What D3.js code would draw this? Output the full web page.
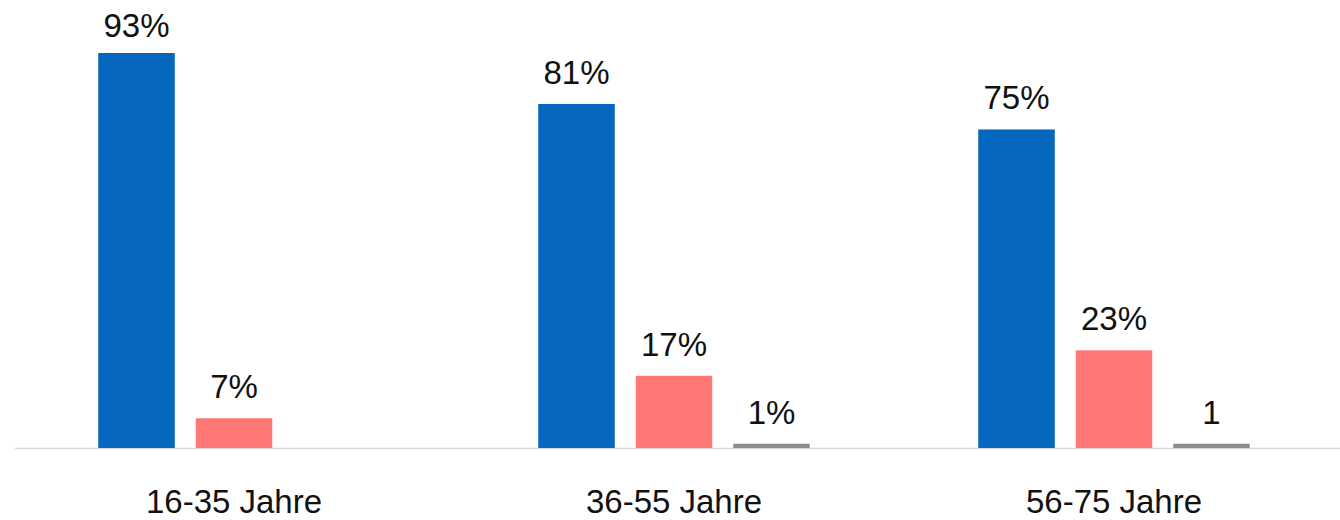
<!DOCTYPE html>
<html>
<head>
<meta charset="utf-8">
<script src="https://cdn.jsdelivr.net/npm/d3@7"></script>
<style>
  body { margin: 0; background: #fff; }
  text { font-family: "Liberation Sans", Arial, sans-serif; fill: #111; }
</style>
</head>
<body>
<svg id="chart" width="1340" height="520"></svg>
<script>
const categories = ["16-35 Jahre", "36-55 Jahre", "56-75 Jahre"];
const series = ["s1", "s2", "s3"];
const colors = ["#0567bd", "#ff7875", "#8c8c8c"];
const values = [
  [93, 7, 0],
  [81, 17, 1],
  [75, 23, 1]
];
const labels = [
  ["93%", "7%", ""],
  ["81%", "17%", "1%"],
  ["75%", "23%", "1"]
];

const svg = d3.select("#chart");
const baseY = 448;

const x0 = d3.scaleBand().domain(categories).range([14, 1334]).padding(0);
const x1 = d3.scaleBand().domain(series).range([0, x0.bandwidth()])
  .paddingInner(0.215).paddingOuter(0.864);
const y = d3.scaleLinear().domain([0, 93]).range([baseY, 53]);

// baseline
svg.append("line")
  .attr("x1", 15).attr("x2", 1340)
  .attr("y1", baseY + 0.5).attr("y2", baseY + 0.5)
  .attr("stroke", "#d9d9d9").attr("stroke-width", 1.5);

const groups = svg.selectAll("g.grp")
  .data(categories)
  .enter().append("g")
  .attr("class", "grp")
  .attr("transform", d => `translate(${x0(d)},0)`);

groups.selectAll("rect")
  .data((d, i) => values[i].map((v, j) => ({ v, j })))
  .enter().append("rect")
  .attr("x", d => x1(series[d.j]))
  .attr("width", x1.bandwidth())
  .attr("y", d => y(d.v))
  .attr("height", d => baseY - y(d.v))
  .attr("fill", d => colors[d.j]);

groups.selectAll("text.val")
  .data((d, i) => values[i].map((v, j) => ({ v, j, t: labels[i][j] })))
  .enter().append("text")
  .attr("class", "val")
  .attr("x", d => x1(series[d.j]) + x1.bandwidth() / 2)
  .attr("y", d => Math.max(37, y(d.v) - 20))
  .attr("text-anchor", "middle")
  .attr("font-size", 33)
  .text(d => d.t);

svg.selectAll("text.cat")
  .data(categories)
  .enter().append("text")
  .attr("class", "cat")
  .attr("x", d => x0(d) + x0.bandwidth() / 2)
  .attr("y", 513)
  .attr("text-anchor", "middle")
  .attr("font-size", 33)
  .text(d => d);
</script>
</body>
</html>
